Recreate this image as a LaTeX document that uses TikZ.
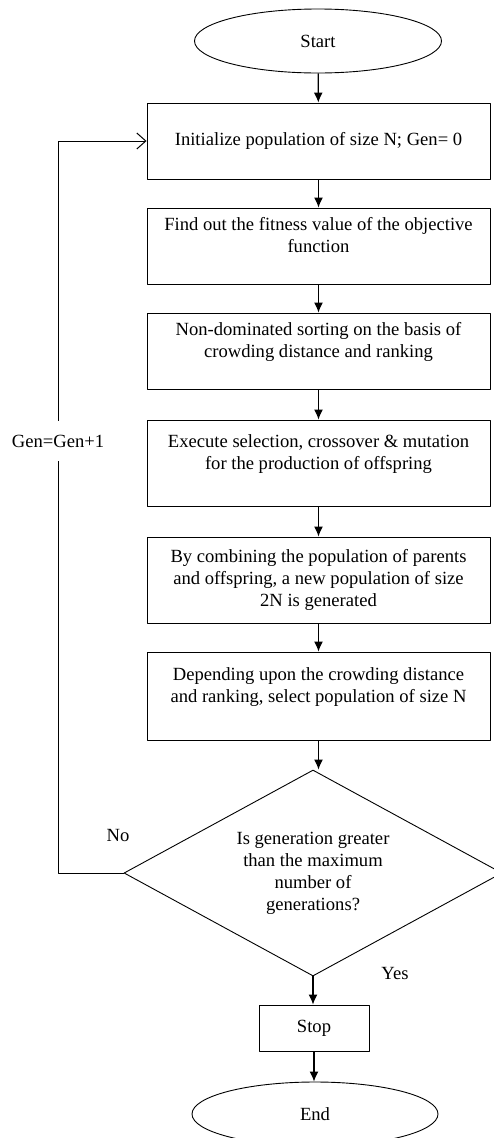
\documentclass[tikz,border=0pt]{standalone}
\usepackage{fontspec}
\setmainfont{Liberation Serif}
\usetikzlibrary{shapes.geometric,arrows.meta}
\begin{document}
\begin{tikzpicture}[x=1pt,y=-1pt,line join=round,line width=.9pt,
	font=\fontsize{18.6}{22}\selectfont,
	terminal/.style={draw,ellipse,minimum width=247,minimum height=64,inner sep=0},
	stepbox/.style={draw,rectangle,minimum width=343,minimum height=76,align=center,inner sep=2},
	decide/.style={draw,diamond,aspect=1.83,minimum width=378,minimum height=206,align=center,inner sep=0},
	flow/.style={-{Latex[length=10pt,width=9pt]},line width=1.2pt},
	back/.style={-{Straight Barb[length=9pt,width=16pt]},line width=1pt}]
	\useasboundingbox (0,0) rectangle (494,1138);
	\def\cx{318.5} % box centre
	\node[terminal] (start) at (318,41) {Start};
	\node[stepbox] (init) at (\cx,141) {Initialize population of size N; Gen= 0};
	\node[stepbox] (fit) at (\cx,246) {Find out the fitness value of the objective\\function\\ \mbox{}};
	\node[stepbox] (sort) at (\cx,351) {Non-dominated sorting on the basis of\\crowding distance and ranking\\ \mbox{}};
	\node[stepbox,minimum height=86] (exec) at (\cx,463) {Execute selection, crossover \& mutation\\for the production of offspring\\ \mbox{}};
	\node[stepbox,minimum height=86] (comb) at (\cx,580) {By combining the population of parents\\and offspring, a new population of size\\2N is generated};
	\node[stepbox,minimum height=88] (sel) at (\cx,696) {Depending upon the crowding distance\\and ranking, select population of size N\\ \mbox{}};
	\node[decide] (dec) at (313,873) {Is generation greater\\than the maximum\\number of\\generations?};
	\node[draw,rectangle,minimum width=110,minimum height=46] (stop) at (314,1028) {Stop};
	\node[terminal,minimum width=246] (end) at (315,1114) {End};
	\node (no) at (118,835) {No};
	\node (yes) at (395,973) {Yes};
	\coordinate (lb) at (58,873);
	\coordinate (lt) at (58,141);
	% main flow
	\draw[flow] (start)--(init);
	\draw[flow] (init)--(fit);
	\draw[flow] (fit)--(sort);
	\draw[flow] (sort)--(exec);
	\draw[flow] (exec)--(comb);
	\draw[flow] (comb)--(sel);
	\draw[flow] (sel.south)--(sel.south |- dec.north);
	\draw[flow] (dec.south)--(dec.south |- stop.north);
	\draw[flow] (stop.south)--(stop.south |- end.north);
	% loop back
	\draw[back] (dec.west)--(lb)--node[pos=.59,fill=white,inner xsep=0,inner ysep=14]{Gen=Gen+1}(lt)--(init.west);
\end{tikzpicture}
\end{document}
